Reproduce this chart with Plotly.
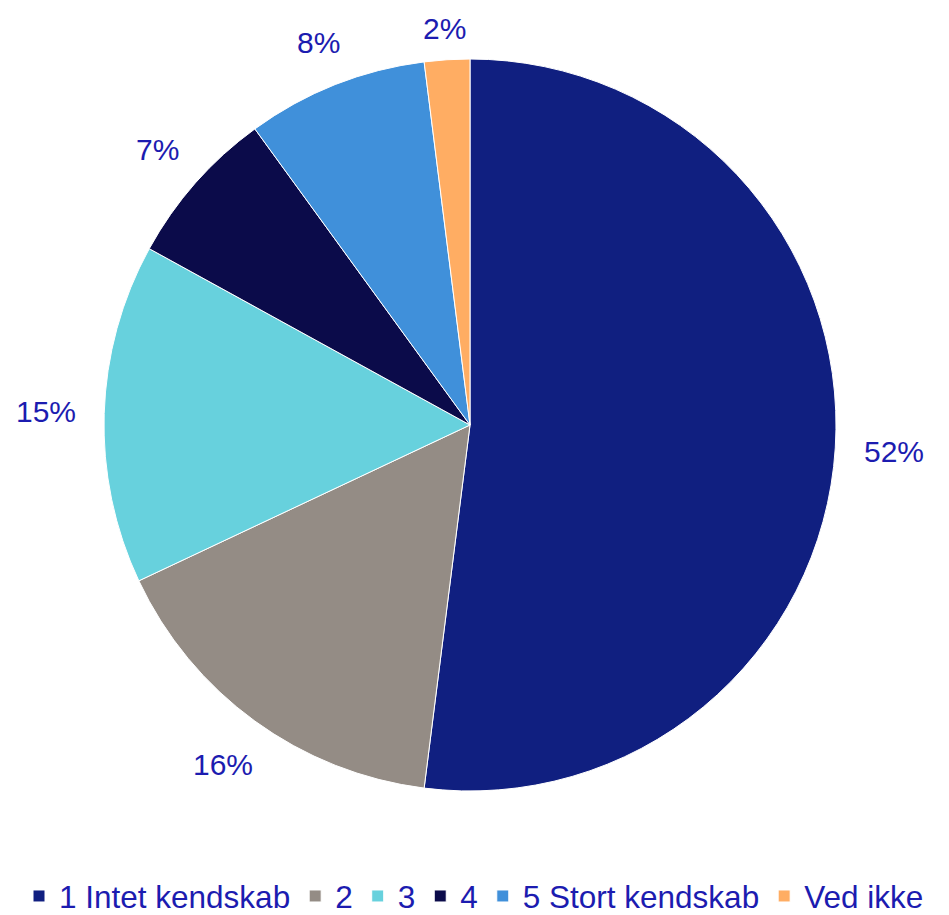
import math
import plotly.graph_objects as go

labels = ["1 Intet kendskab", "2", "3", "4", "5 Stort kendskab", "Ved ikke"]
values = [52, 16, 15, 7, 8, 2]
colors = ["#101f80", "#948c85", "#67d1dd", "#0b0b4a", "#4090da", "#ffad63"]

text_color = "#1c1cb0"
W, H = 949, 915
OFF = 8  # page body margin offsets the figure in the screenshot

# pie placement in screen pixels (centre and radius)
cx, cy, R = 470 - OFF, 425 - OFF, 366

fig = go.Figure(
    go.Pie(
        labels=labels,
        values=values,
        sort=False,
        direction="clockwise",
        rotation=0,
        marker=dict(colors=colors, line=dict(color="white", width=1)),
        textinfo="none",
        hoverinfo="label+value",
        domain=dict(
            x=[(cx - R) / W, (cx + R) / W],
            y=[1 - (cy + R) / H, 1 - (cy - R) / H],
        ),
    )
)

# percentage labels placed outside each slice, around its mid angle
total = sum(values)
cum = 0
gap, hh = 28, 10
for v in values:
    mid = (cum + v / 2) / total * 2 * math.pi
    cum += v
    txt = f"{v}%"
    hw = (16.7 * (len(txt) - 1) + 26.7) / 2
    s, c = math.sin(mid), math.cos(mid)
    r = R + gap + hw * abs(s) + hh * abs(c)
    px = cx + r * s
    py = max(cy - r * c, 20)  # keep the top label inside the page
    fig.add_annotation(
        x=px / W, y=1 - py / H,
        xref="paper", yref="paper",
        text=txt, showarrow=False,
        xanchor="center", yanchor="middle",
        font=dict(size=30, color=text_color),
    )

fig.update_layout(
    width=W,
    height=H,
    paper_bgcolor="white",
    plot_bgcolor="white",
    font=dict(family="Liberation Sans, Arial, sans-serif", color=text_color),
    margin=dict(t=0, b=0, l=0, r=0),
    showlegend=True,
    legend=dict(
        orientation="h",
        x=(474 - OFF) / W,
        xanchor="center",
        y=0,
        yanchor="bottom",
        font=dict(size=31.5, color=text_color),
        itemwidth=30,
    ),
)

fig.write_html("out.html")
